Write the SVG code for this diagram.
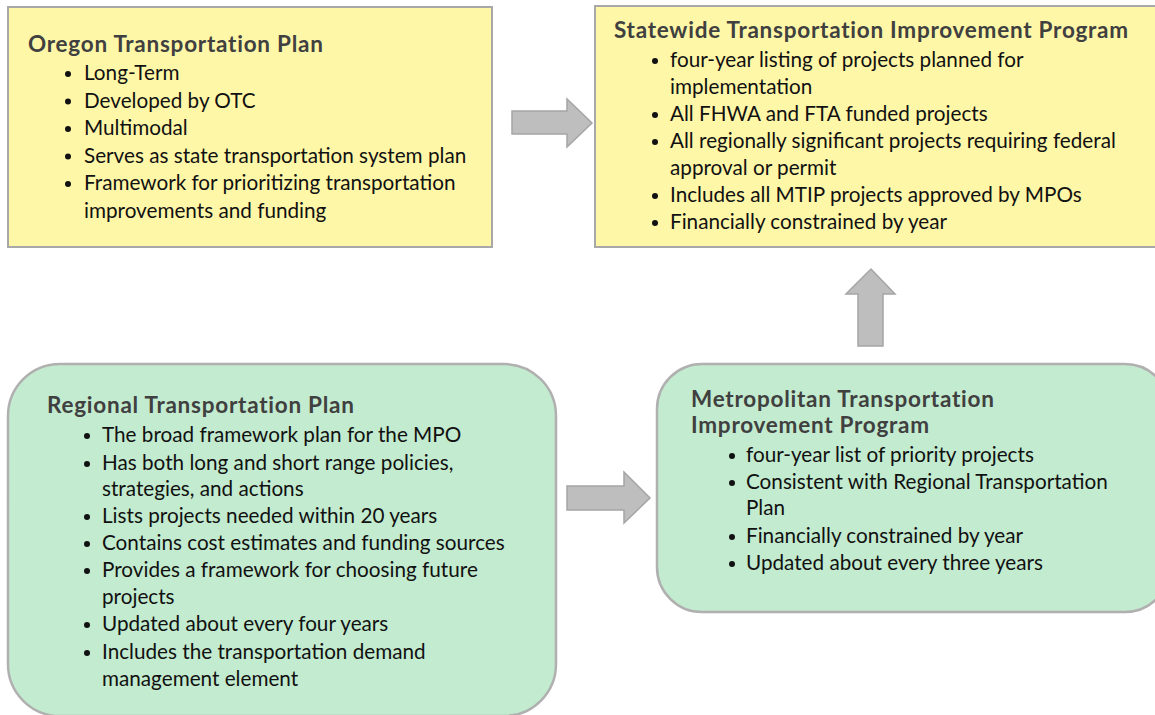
<svg xmlns="http://www.w3.org/2000/svg" width="1155" height="715" viewBox="0 0 1155 715">
<style>
.yel{fill:#FFF7A8;stroke:#A8A8A8;stroke-width:2}
.grn{fill:#C3EBCF;stroke:#B0B0B0;stroke-width:2.5}
.arr{fill:#BEBEBE;stroke:#A5A5A5;stroke-width:1.5}
.t{font-family:Lato,"Open Sans",sans-serif;font-weight:bold;font-size:22.5px;letter-spacing:0.75px;fill:#404040}
.b{font-family:Lato,"Open Sans",sans-serif;font-size:20.7px;fill:#111}
.d{fill:#111}
</style>
<rect width="1155" height="715" fill="#fff"/>
<g id="connectors">
<polygon class="arr" points="512,111 567,111 567,99 592,123 567,147 567,134 512,134"/>
<polygon class="arr" points="858,346 858,294 846,294 871,269 895,294 883,294 883,346"/>
<polygon class="arr" points="567,486 624,486 624,472 650,498 624,523 624,510 567,510"/>
</g>
<g id="otp">
<rect class="yel" x="8" y="7" width="484" height="240"/>
<text class="t" x="28" y="52">Oregon Transportation Plan</text>
<g class="b">
<text x="84" y="80">Long-Term</text>
<text x="84" y="107.5">Developed by OTC</text>
<text x="84" y="135">Multimodal</text>
<text x="84" y="162.5">Serves as state transportation system plan</text>
<text x="84" y="190">Framework for prioritizing transportation</text>
<text x="84" y="217.5">improvements and funding</text>
</g>
<g class="d"><circle cx="68" cy="74" r="3"/><circle cx="68" cy="101.5" r="3"/><circle cx="68" cy="129" r="3"/><circle cx="68" cy="156.5" r="3"/><circle cx="68" cy="184" r="3"/></g>
</g>
<g id="stip">
<rect class="yel" x="595" y="6" width="575" height="241"/>
<text class="t" x="614" y="38">Statewide Transportation Improvement Program</text>
<g class="b">
<text x="670" y="67">four-year listing of projects planned for</text>
<text x="670" y="94">implementation</text>
<text x="670" y="121">All FHWA and FTA funded projects</text>
<text x="670" y="148">All regionally significant projects requiring federal</text>
<text x="670" y="175">approval or permit</text>
<text x="670" y="202">Includes all MTIP projects approved by MPOs</text>
<text x="670" y="229">Financially constrained by year</text>
</g>
<g class="d"><circle cx="655" cy="61" r="3"/><circle cx="655" cy="115" r="3"/><circle cx="655" cy="142" r="3"/><circle cx="655" cy="196" r="3"/><circle cx="655" cy="223" r="3"/></g>
</g>
<g id="rtp">
<rect class="grn" x="8" y="364" width="548" height="352" rx="52"/>
<text class="t" x="47" y="413">Regional Transportation Plan</text>
<g class="b">
<text x="102" y="442">The broad framework plan for the MPO</text>
<text x="102" y="470">Has both long and short range policies,</text>
<text x="102" y="496">strategies, and actions</text>
<text x="102" y="523">Lists projects needed within 20 years</text>
<text x="102" y="550">Contains cost estimates and funding sources</text>
<text x="102" y="577">Provides a framework for choosing future</text>
<text x="102" y="604">projects</text>
<text x="102" y="631">Updated about every four years</text>
<text x="102" y="659">Includes the transportation demand</text>
<text x="102" y="686">management element</text>
</g>
<g class="d"><circle cx="87" cy="436" r="3"/><circle cx="87" cy="464" r="3"/><circle cx="87" cy="517" r="3"/><circle cx="87" cy="544" r="3"/><circle cx="87" cy="571" r="3"/><circle cx="87" cy="625" r="3"/><circle cx="87" cy="653" r="3"/></g>
</g>
<g id="mtip">
<rect class="grn" x="657" y="364" width="513" height="248" rx="45"/>
<text class="t" x="691" y="407">Metropolitan Transportation</text>
<text class="t" x="691" y="433">Improvement Program</text>
<g class="b">
<text x="746" y="462">four-year list of priority projects</text>
<text x="746" y="489">Consistent with Regional Transportation</text>
<text x="746" y="515">Plan</text>
<text x="746" y="543">Financially constrained by year</text>
<text x="746" y="570">Updated about every three years</text>
</g>
<g class="d"><circle cx="732" cy="456" r="3"/><circle cx="732" cy="483" r="3"/><circle cx="732" cy="537" r="3"/><circle cx="732" cy="564" r="3"/></g>
</g>
</svg>
